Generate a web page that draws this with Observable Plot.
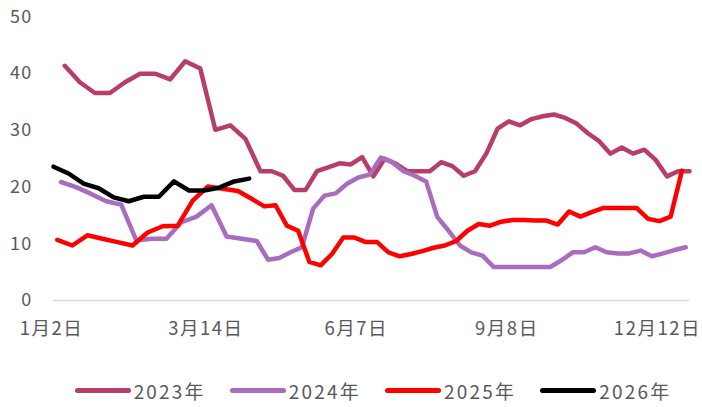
<!DOCTYPE html>
<html>
<head>
<meta charset="utf-8">
<script src="https://cdn.jsdelivr.net/npm/d3@7"></script>
<script src="https://cdn.jsdelivr.net/npm/@observablehq/plot@0.6"></script>
<style>
  html, body { margin: 0; padding: 0; background: #fff; }
  #chart { width: 702px; height: 407px; position: relative; font-family: "Noto Sans CJK SC", "Noto Sans", sans-serif; color: #595959; }
  #chart g[aria-label="x-axis tick label"] text { font-size: 18.5px; letter-spacing: 1.5px; }
  #chart g[aria-label="y-axis tick label"] text { letter-spacing: 1.2px; }
  #legend { display: flex; justify-content: center; align-items: center; margin-top: 27px; font-size: 19px; letter-spacing: 2.2px; color: #595959; padding-left: 44px; }
  .item { display: flex; align-items: center; margin: 0 12px; }
  .sw { width: 56px; height: 5px; border-radius: 3px; margin-right: 3px; }
</style>
</head>
<body>
<div id="chart"></div>
<script>
// Series names, colours and weekly start dates (Fridays)
const seriesNames = ["2023年", "2024年", "2025年", "2026年"];
const seriesColors = ["#B83E6A", "#AA6CBE", "#FF0000", "#000000"];
const seriesStarts = ["2023-01-06", "2024-01-05", "2025-01-03", "2026-01-02"];

// Weekly values
const values2023 = [41.4, 38.5, 36.6, 36.6, 38.5, 40.0, 40.0, 39.0, 42.2, 40.9,
  30.1, 30.9, 28.5, 22.8, 22.8, 22.0, 19.5, 19.5, 22.8, 23.5,
  24.2, 24.0, 25.3, 21.9, 25.0, 24.1, 22.8, 22.8, 22.8, 24.4,
  23.7, 22.0, 22.8, 25.9, 30.3, 31.6, 30.9, 32.0, 32.5, 32.8,
  32.2, 31.2, 29.5, 28.1, 25.9, 27.0, 25.9, 26.6, 24.8, 21.9,
  22.8, 22.8];
const values2024 = [20.9, 20.0, 18.8, 17.5, 16.9, 10.6, 10.9, 10.9, 13.8, 14.8,
  16.8, 11.3, 10.9, 10.5, 7.2, 7.5, 8.5, 9.4, 16.2, 18.5,
  18.9, 20.6, 21.7, 22.2, 25.2, 24.4, 22.8, 22.0, 21.0, 14.7,
  12.3, 9.7, 8.5, 7.9, 5.9, 5.9, 5.9, 5.9, 5.9, 5.9,
  7.1, 8.5, 8.5, 9.4, 8.5, 8.3, 8.3, 8.8, 7.8, 8.3,
  8.9, 9.4];
const values2025 = [10.7, 9.7, 11.5, 10.9, 10.3, 9.7, 12.0, 13.1, 13.2, 17.6,
  20.1, 19.7, 19.3, 17.8, 16.6, 16.8, 13.2, 12.3, 6.8, 6.2,
  8.2, 11.1, 11.1, 10.3, 10.3, 8.5, 7.8, 8.2, 8.7, 9.3,
  9.7, 10.5, 12.3, 13.5, 13.2, 13.9, 14.2, 14.2, 14.1, 14.1,
  13.4, 15.7, 14.8, 15.6, 16.3, 16.3, 16.3, 16.3, 14.4, 14.0,
  14.8, 22.9];
const values2026 = [23.6, 22.4, 20.6, 19.8, 18.2, 17.5, 18.3, 18.3, 21.0, 19.4,
  19.4, 19.9, 21.0, 21.5];

const xTickLabels = ["1月2日", "3月14日", "6月7日", "9月8日", "12月12日"];
const yTicks = [0, 10, 20, 30, 40, 50];

// Build long-format table: each point gets its month-day category
const allValues = [values2023, values2024, values2025, values2026];
const rows = [];
allValues.forEach((vals, s) => {
  const [y, m, d] = seriesStarts[s].split("-").map(Number);
  vals.forEach((v, k) => {
    const dt = new Date(Date.UTC(y, m - 1, d + 7 * k));
    const mo = dt.getUTCMonth() + 1, da = dt.getUTCDate();
    rows.push({series: seriesNames[s], key: mo * 100 + da, cat: `${mo}月${da}日`, value: v});
  });
});
// Category axis: union of month-day labels, in calendar order
const categories = Array.from(d3.group(rows, r => r.key))
  .sort((a, b) => a[0] - b[0]).map(([, g]) => g[0].cat);

const plot = Plot.plot({
  width: 702,
  height: 350,
  marginLeft: 53,
  marginRight: 13,
  marginTop: 16.5,
  marginBottom: 50,
  style: {fontFamily: '"Noto Sans CJK SC", "Noto Sans", sans-serif', fontSize: "18px", color: "#595959", background: "#fff"},
  x: {type: "point", domain: categories, padding: 0},
  y: {domain: [0, 50]},
  color: {domain: seriesNames, range: seriesColors},
  marks: [
    Plot.ruleY([0], {stroke: "#d9d9d9", strokeWidth: 1.5}),
    Plot.axisY({ticks: yTicks, tickSize: 0, tickPadding: 21, label: null}),
    Plot.axisX({ticks: xTickLabels, tickSize: 0, tickPadding: 21, dx: -2, label: null}),
    Plot.line(rows, {x: "cat", y: "value", z: "series", stroke: "series", strokeWidth: 4.5,
      strokeLinejoin: "round", strokeLinecap: "round"})
  ]
});
document.getElementById("chart").appendChild(plot);

const legend = document.createElement("div");
legend.id = "legend";
seriesNames.forEach((n, i) => {
  const it = document.createElement("div");
  it.className = "item";
  const sw = document.createElement("div");
  sw.className = "sw";
  sw.style.background = seriesColors[i];
  const tx = document.createElement("span");
  tx.textContent = n;
  it.appendChild(sw); it.appendChild(tx);
  legend.appendChild(it);
});
document.getElementById("chart").appendChild(legend);
</script>
</body>
</html>
